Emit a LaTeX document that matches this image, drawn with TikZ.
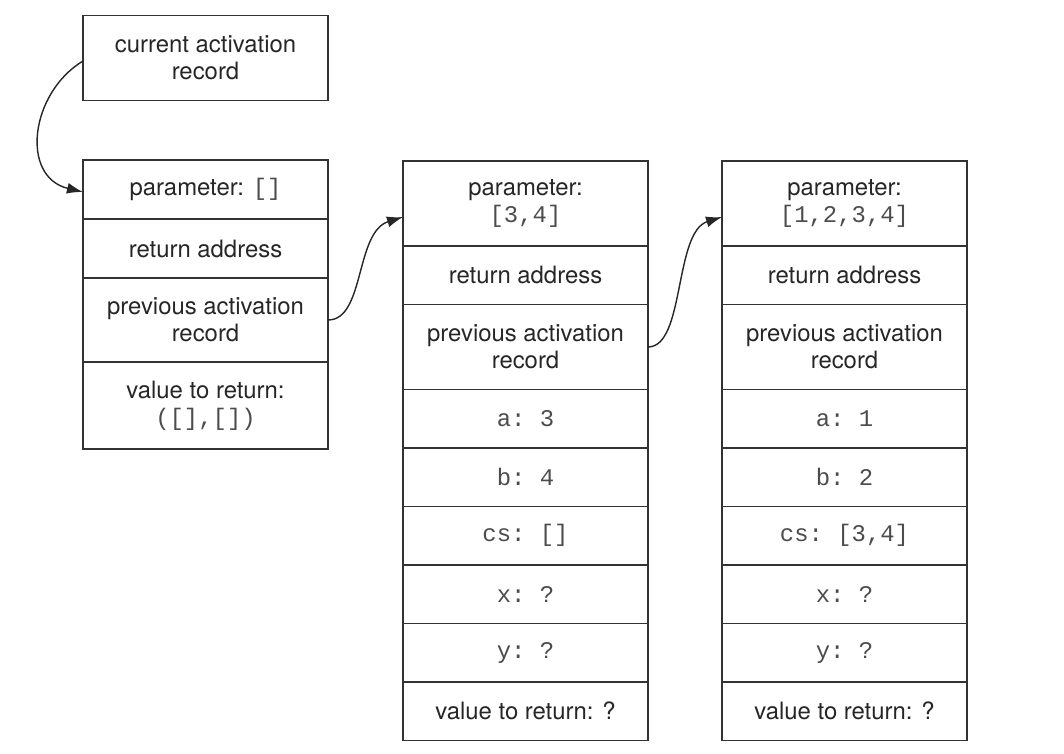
\documentclass[tikz,border=0pt]{standalone}
\usepackage{fontspec}
\setmainfont{TeX Gyre Heros}
\setmonofont{Liberation Mono}
\usetikzlibrary{positioning,arrows.meta}

\newcommand{\val}[1]{{\ttfamily\color{black!70}#1}}

\tikzset{
  cell/.style={draw=black!80, line width=1pt, minimum width=4.9cm, align=center,
    inner sep=0pt, outer sep=0pt, font=\fontsize{13.6}{15.5}\selectfont, text=black!85},
  lowcell/.style={cell, minimum height=1.17cm},
  highcell/.style={cell, minimum height=1.7cm},
  link/.style={-{Latex[length=3.2mm,width=2.2mm]}, line width=0.8pt, black!85}
}

\begin{document}
\begin{tikzpicture}
\useasboundingbox (0,0) rectangle (21.28,-15.08);

% Pointer to the current record
\node[highcell] (cur) at (4.11,-1.16) {current activation\\record};

% Record of the last call
\node[cell, minimum height=1.18cm] (par1) at (4.11,-3.79) {parameter: \val{[]}};
\node[cell, minimum height=1.18cm, below=0pt of par1] (ret1) {return address};
\node[cell, minimum height=1.68cm, below=0pt of ret1] (prev1) {previous activation\\record};
\node[cell, minimum height=1.74cm, below=0pt of prev1] (res1) {value to return:\\\val{([],[])}};

% Record of the middle call
\node[highcell] (par2) at (10.51,-4.07) {parameter:\\\val{[3,4]}};
\node[lowcell, below=0pt of par2] (ret2) {return address};
\node[highcell, below=0pt of ret2] (prev2) {previous activation\\record};
\node[lowcell, below=0pt of prev2] (a2) {\val{a: 3}};
\node[lowcell, below=0pt of a2] (b2) {\val{b: 4}};
\node[lowcell, below=0pt of b2] (cs2) {\val{cs: []}};
\node[lowcell, below=0pt of cs2] (x2) {\val{x: ?}};
\node[lowcell, below=0pt of x2] (y2) {\val{y: ?}};
\node[lowcell, below=0pt of y2] (res2) {value to return: ?};

% Record of the first call
\node[highcell] (par3) at (16.89,-4.07) {parameter:\\\val{[1,2,3,4]}};
\node[lowcell, below=0pt of par3] (ret3) {return address};
\node[highcell, below=0pt of ret3] (prev3) {previous activation\\record};
\node[lowcell, below=0pt of prev3] (a3) {\val{a: 1}};
\node[lowcell, below=0pt of a3] (b3) {\val{b: 2}};
\node[lowcell, below=0pt of b3] (cs3) {\val{cs: [3,4]}};
\node[lowcell, below=0pt of cs3] (x3) {\val{x: ?}};
\node[lowcell, below=0pt of x3] (y3) {\val{y: ?}};
\node[lowcell, below=0pt of y3] (res3) {value to return: ?};

% Links between records
\draw[link] ([yshift=-0.6mm]cur.west) .. controls +(-1.06,-0.64) and +(-1.26,0.3) .. ([yshift=-0.5mm]par1.west);
\draw[link] (prev1.east) .. controls +(0.74,0) and +(-0.96,-0.3) .. ([yshift=-2.7mm]par2.west);
\draw[link] (prev2.east) .. controls +(0.74,0) and +(-0.96,-0.3) .. ([yshift=-2.7mm]par3.west);

\end{tikzpicture}
\end{document}
